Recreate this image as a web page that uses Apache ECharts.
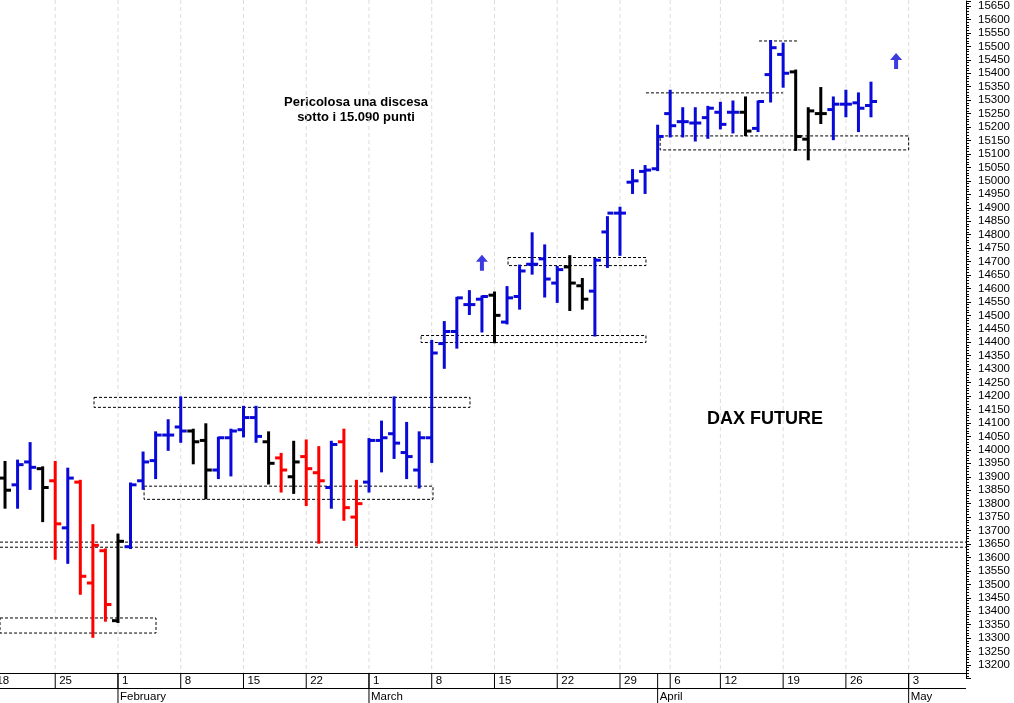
<!DOCTYPE html>
<html><head><meta charset="utf-8">
<script src="https://cdn.jsdelivr.net/npm/echarts@6/dist/echarts.min.js"></script>
<style>html,body{margin:0;padding:0;background:#fff}#c{width:1014px;height:703px}</style>
</head><body><div id="c"></div>
<script>
// bar index: 0 = 18 Jan 2021, trading days only (2 and 5 April holidays)
const opens  = [13895,13870,13955,13930,13885,13710,13880,13505,13625,13365,13640,13885,13960,14055,14085,14070,14035,13925,14045,14075,14120,14030,13970,13900,13975,13915,13860,14030,13750,13880,14035,14060,13990,13925,14045,14395,14440,14540,14560,14575,14475,14570,14690,14710,14620,14680,14610,14590,14810,14880,14995,15035,15045,15250,15220,15215,15235,15255,15255,15255,15195,15395,15470,15405,15155,15250,15265,15285,15290,15280];
const highs  = [13955,13960,14025,13935,13955,13930,13885,13720,13630,13685,13875,13990,14065,14110,14195,14075,14095,14045,14075,14160,14160,14065,13985,14030,14035,14010,14030,14075,13885,14040,14105,14195,14100,14065,14405,14475,14565,14590,14570,14585,14605,14685,14805,14760,14680,14720,14635,14710,14865,14900,15040,15055,15205,15335,15270,15270,15275,15290,15295,15310,15295,15520,15510,15410,15270,15345,15310,15335,15325,15365];
const lows   = [13785,13785,13855,13735,13595,13580,13465,13305,13365,13360,13635,13855,13895,14000,14030,13950,13820,13895,13905,14050,14030,13875,13845,13840,13795,13655,13785,13740,13645,13845,13920,13970,13895,13860,13955,14305,14380,14505,14440,14400,14470,14525,14655,14570,14550,14520,14525,14425,14680,14725,14955,14955,15040,15165,15165,15150,15160,15195,15180,15170,15185,15295,15350,15115,15080,15215,15155,15240,15185,15240];
const closes = [13850,13945,13935,13860,13725,13895,13530,13645,13425,13660,13870,13955,14055,14055,14070,14030,13925,14045,14070,14120,14050,13950,13925,13955,13930,13885,14020,13785,13800,14035,14045,14025,13975,14045,14360,14440,14565,14540,14570,14500,14565,14665,14690,14635,14670,14620,14560,14705,14880,14880,15000,15040,15165,15205,15220,15215,15270,15210,15255,15185,15295,15495,15400,15165,15260,15250,15285,15285,15270,15295];
const barColors = "KBBKRBRRRKBBBBBKKBBBBKRKRRBRRBBBBBBBBBBKBBBBBKKBBBBBBBBBBBBKBBBKKKBBBB";
const weekIdx = [0,5,10,15,20,25,30,35,40,45,50,54,58,63,68,73];
const weekLabels = ['18','25','1','8','15','22','1','8','15','22','29','6','12','19','26','3'];
const monthIdx = [10,30,53,73];
const monthLabels = ['February','March','April','May'];
const boxes = [[8.09,38.05,14195,14158],[12.08,35.1,13865,13816],[0.6,13.03,13375,13319],[34.15,52.07,14425,14399],[41.08,52.07,14715,14685],[53.2,73.0,15167,15115]];
const hLines = [[0.6,77.57,13657],[0.6,77.57,13638],[52.07,62.99,15327],[61.08,64.1,15520]];
const arrows = [[39,14696],[72,15446]];

const colMap = {K:'#000000',B:'#0a0ad8',R:'#ff0000'};
const ohlc = opens.map((o,i)=>({value:[i+1,o,highs[i],lows[i],closes[i]],itemStyle:{color:colMap[barColors[i]]}}));

const chart = echarts.init(document.getElementById('c'));
chart.setOption({
  animation:false,
  backgroundColor:'#fff',
  grid:{left:0,width:966,top:0,bottom:24.5},
  xAxis:{type:'value',min:0.6,max:77.57,show:false},
  yAxis:{type:'value',position:'right',min:13150,max:15668.6,interval:50,
    axisLine:{show:true,onZero:false,lineStyle:{color:'#000'}},
    axisTick:{show:true,inside:false,length:5,lineStyle:{color:'#000'}},
    minorTick:{show:true,splitNumber:5,length:3,lineStyle:{color:'#000'}},
    splitLine:{show:false},
    axisLabel:{color:'#000',fontFamily:'Liberation Sans',fontSize:11.5,margin:12,showMaxLabel:false,
      formatter:v=>(v===13150)?'':String(v)}},
  series:[
    {type:'custom',silent:true,clip:false,data:weekIdx.map((d,i)=>[d,i]),z:1,
     renderItem:(p,api)=>{
       const x=api.coord([api.value(0),15000])[0];
       const i=api.value(1);
       return {type:'group',children:[
         {type:'line',shape:{x1:x,y1:0,x2:x,y2:673},style:{stroke:'#dcdcdc',lineWidth:1,lineDash:[4,3]}},
         {type:'line',shape:{x1:x,y1:673,x2:x,y2:688},style:{stroke:'#000',lineWidth:1}},
         {type:'text',x:x+4,y:675,style:{text:weekLabels[i],fill:'#000',font:'11.5px "Liberation Sans"'}}
       ]};
     }},
    {type:'custom',silent:true,clip:false,data:monthIdx.map((d,i)=>[d,i]),z:1,
     renderItem:(p,api)=>{
       const x=api.coord([api.value(0),15000])[0];
       return {type:'group',children:[
         {type:'line',shape:{x1:x,y1:673,x2:x,y2:703},style:{stroke:'#000',lineWidth:1}},
         {type:'text',x:x+2,y:691,style:{text:monthLabels[api.value(1)],fill:'#000',font:'11.5px "Liberation Sans"'}}
       ]};
     }},
    {type:'custom',silent:true,clip:false,data:boxes,z:2,
     renderItem:(p,api)=>{
       const a=api.coord([api.value(0),api.value(2)]),b=api.coord([api.value(1),api.value(3)]);
       return {type:'rect',shape:{x:a[0],y:a[1],width:b[0]-a[0],height:b[1]-a[1]},style:{fill:null,stroke:'#000',lineWidth:1,lineDash:[3,2]}};
     }},
    {type:'custom',silent:true,clip:false,data:hLines,z:2,
     renderItem:(p,api)=>{
       const a=api.coord([api.value(0),api.value(2)]),b=api.coord([api.value(1),api.value(2)]);
       return {type:'line',shape:{x1:a[0],y1:a[1],x2:b[0],y2:a[1]},style:{stroke:'#000',lineWidth:1,lineDash:[3,2]}};
     }},
    {type:'custom',silent:true,data:ohlc,z:3,
     renderItem:(p,api)=>{
       const x=api.value(0);
       const o=api.coord([x,api.value(1)]),h=api.coord([x,api.value(2)]),l=api.coord([x,api.value(3)]),c=api.coord([x,api.value(4)]);
       const col=api.visual('color');
       const st={stroke:col,lineWidth:3};
       return {type:'group',children:[
         {type:'line',shape:{x1:h[0],y1:h[1]-1,x2:l[0],y2:l[1]+1},style:st},
         {type:'line',shape:{x1:o[0]-6,y1:o[1],x2:o[0],y2:o[1]},style:st},
         {type:'line',shape:{x1:c[0],y1:c[1],x2:c[0]+6,y2:c[1]},style:st}
       ]};
     }},
    {type:'scatter',silent:true,data:arrows,symbol:'path://M6,0 L12,7 L8,7 L8,16 L4,16 L4,7 L0,7 Z',symbolSize:[12,16],itemStyle:{color:'#0a0ad8'},z:4}
  ],
  graphic:[
    {type:'line',shape:{x1:0,y1:673.5,x2:966,y2:673.5},style:{stroke:'#000',lineWidth:1}},
    {type:'line',shape:{x1:0,y1:688.5,x2:966,y2:688.5},style:{stroke:'#000',lineWidth:1}},
    {type:'text',x:356,y:95,style:{text:'Pericolosa una discesa\nsotto i 15.090 punti',align:'center',fill:'#000',font:'bold 13px "Liberation Sans"',lineHeight:15}},
    {type:'text',x:765,y:410,style:{text:'DAX FUTURE',align:'center',fill:'#000',font:'bold 18px "Liberation Sans"'}}
  ]
});
</script></body></html>
